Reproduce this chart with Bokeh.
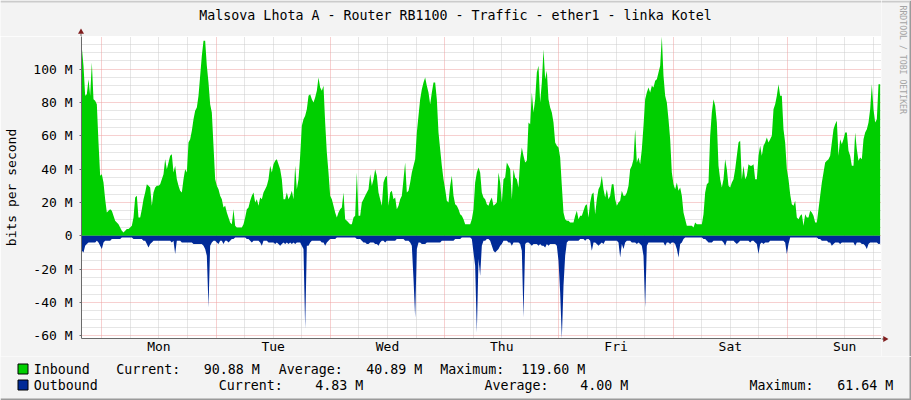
import math
from bokeh.plotting import figure
from bokeh.layouts import column, row
from bokeh.models import Range1d, FixedTicker, Grid
from bokeh.core.properties import value
from bokeh.embed import file_html
from bokeh.resources import INLINE

# ---------------- data ----------------
TITLE = "Malsova Lhota A - Router RB1100 - Traffic - ether1 - linka Kotel"
Y_LABEL = "bits per second"
WATERMARK = "RRDTOOL / TOBI OETIKER"
DAY_LABELS = ["Mon", "Tue", "Wed", "Thu", "Fri", "Sat", "Sun"]
Y_TICKS = [-60, -40, -20, 0, 20, 40, 60, 80, 100]
Y_TICK_LABELS = ["-60 M", "-40 M", "-20 M", "0", "20 M", "40 M", "60 M", "80 M", "100 M"]

# time axis in hours from Monday 00:00
X_START, X_END = -4.26, 163.74
SAMPLE_START = -4.19      # first sample (Sun 19:49)
SAMPLE_STEP = 0.35        # 21 minutes
Y_MIN, Y_MAX = -61.64, 119.60   # Mbit/s

inbound_mbps = [
    113, 102, 84, 85, 94, 84, 104, 82, 81, 79,
    56, 36, 37, 32, 22, 14, 15, 16, 15, 12,
    9, 8, 7, 5, 3, 2, 3, 4, 4, 5,
    6, 11, 23, 24, 11, 11, 16, 22, 26, 31,
    30, 29, 18, 26, 29, 30, 30, 31, 34, 37,
    46, 40, 44, 48, 49, 38, 42, 34, 30, 27,
    26, 34, 40, 38, 56, 58, 63, 70, 75, 77,
    84, 96, 108, 117, 117, 102, 92, 79, 74, 54,
    34, 30, 28, 24, 22, 17, 18, 14, 11, 8,
    7, 16, 6, 5, 5, 5, 5, 7, 11, 16,
    17, 21, 24, 26, 20, 22, 18, 23, 22, 26,
    28, 30, 34, 42, 38, 43, 45, 46, 43, 40,
    34, 22, 22, 26, 22, 24, 27, 22, 42, 28,
    34, 48, 66, 70, 72, 76, 84, 85, 82, 80,
    83, 87, 95, 89, 87, 90, 68, 50, 38, 24,
    22, 18, 14, 11, 14, 16, 17, 26, 10, 9,
    8, 7, 7, 11, 12, 38, 12, 12, 20, 22,
    24, 26, 28, 37, 30, 34, 40, 36, 26, 22,
    18, 32, 35, 36, 18, 26, 27, 22, 23, 16,
    18, 22, 24, 34, 44, 26, 27, 32, 38, 42,
    46, 62, 72, 82, 88, 92, 95, 90, 86, 79,
    86, 92, 92, 82, 62, 52, 42, 34, 28, 21,
    20, 30, 36, 24, 19, 18, 16, 13, 12, 10,
    7, 7, 7, 7, 10, 16, 32, 38, 41,
    38, 26, 23, 22, 19, 18, 21, 23, 18, 19,
    20, 38, 32, 20, 34, 35, 44, 42, 40, 22,
    40, 35, 34, 29, 46, 53, 48, 44, 45, 68,
    67, 86, 74, 82, 98, 102, 80, 92, 112, 94,
    99, 82, 77, 74, 68, 56, 54, 53, 47, 30,
    14, 10, 9, 9, 8, 8, 8, 12, 15, 10,
    12, 12, 15, 18, 19, 11, 20, 25, 26, 13,
    22, 28, 30, 36, 28, 23, 28, 22, 24, 31,
    31, 22, 18, 20, 21, 27, 24, 24, 26, 30,
    40, 42, 46, 64, 44, 47, 43, 52, 66, 82,
    86, 89, 86, 90, 89, 93, 94, 98, 102, 119.6,
    96, 84, 80, 70, 58, 38, 31, 28, 32, 27,
    29, 24, 14, 10, 6, 6, 6, 6, 5, 8,
    7, 7, 7, 7, 13, 26, 31, 32, 60, 74,
    82, 78, 68, 42, 34, 29, 34, 46, 40, 30,
    29, 32, 34, 40, 48, 56, 57, 34, 42, 34,
    36, 43, 42, 42, 43, 34, 34, 48, 54, 48,
    54, 56, 59, 56, 58, 60, 76, 79, 84, 91,
    84, 84, 64, 56, 40, 34, 25, 19, 18, 21,
    11, 10, 12, 13, 6, 13, 11, 11, 15, 14,
    12, 8, 8, 16, 24, 32, 38, 44, 45, 46,
    48, 56, 64, 67, 69, 48, 58, 55, 58, 62,
    62, 51, 48, 42, 42, 62, 52, 45, 47, 46,
    58, 62, 64, 68, 76, 91, 76, 68, 70, 91, 90.88,
]

outbound_mbps = [
    9, 10, 6, 5, 4, 4, 4, 4, 4, 3,
    4, 6, 8, 4, 3, 3, 3, 3, 2, 2,
    2, 2, 2, 2, 1, 1, 1, 1, 1, 1,
    1, 2, 2, 2, 2, 2, 2, 3, 3, 5,
    7, 5, 4, 3, 3, 3, 3, 3, 3, 3,
    3, 3, 3, 3, 4, 3, 11, 3, 3, 3,
    4, 4, 4, 4, 4, 4, 4, 5, 5, 5,
    5, 5, 5, 6, 8, 12, 43, 6, 4, 3,
    3, 4, 5, 3, 3, 5, 3, 3, 4, 3,
    2, 2, 1, 1, 1, 1, 1, 1, 1, 2,
    2, 3, 4, 3, 3, 3, 3, 4, 6, 3,
    3, 3, 4, 4, 4, 4, 5, 4, 5, 6,
    5, 4, 5, 4, 5, 4, 5, 4, 5, 4,
    4, 4, 6, 8, 56, 6, 6, 4, 3, 3,
    3, 3, 3, 3, 4, 4, 6, 4, 3, 2,
    2, 2, 2, 1, 1, 1, 1, 1, 1, 1,
    1, 1, 1, 1, 1, 2, 2, 2, 3, 4,
    4, 5, 5, 4, 4, 4, 5, 5, 6, 4,
    3, 3, 4, 3, 3, 3, 3, 3, 3, 2,
    2, 2, 2, 2, 3, 3, 3, 4, 6, 26,
    49, 8, 4, 4, 5, 5, 5, 4, 4, 4,
    4, 4, 4, 4, 4, 4, 3, 3, 3, 3,
    3, 3, 3, 3, 2, 2, 2, 2, 1, 1,
    1, 1, 1, 1, 2, 10, 18, 58, 14,
    24, 6, 3, 3, 2, 2, 3, 6, 9, 10,
    9, 8, 6, 5, 3, 3, 3, 4, 4, 6,
    4, 4, 4, 4, 5, 9, 49, 5, 4, 4,
    5, 6, 5, 5, 5, 6, 5, 6, 6, 7,
    5, 6, 5, 5, 5, 5, 6, 15, 34, 61.64,
    30, 12, 4, 3, 3, 3, 3, 3, 3, 3,
    2, 2, 2, 3, 2, 2, 3, 9, 4, 4,
    5, 6, 5, 4, 5, 3, 3, 3, 3, 3,
    3, 3, 3, 4, 13, 5, 8, 4, 3, 3,
    3, 4, 4, 4, 5, 4, 5, 6, 12, 43,
    6, 4, 4, 4, 4, 4, 4, 4, 4, 4,
    4, 6, 4, 4, 5, 4, 4, 5, 8, 13,
    5, 4, 2, 1, 1, 1, 1, 1, 1, 1,
    1, 1, 1, 1, 2, 2, 3, 4, 4, 4,
    3, 3, 3, 3, 3, 3, 4, 6, 3, 3,
    3, 3, 3, 4, 5, 4, 3, 3, 3, 3,
    3, 3, 4, 3, 3, 4, 5, 11, 5, 4,
    5, 4, 4, 4, 3, 3, 3, 3, 3, 3,
    3, 3, 3, 4, 11, 5, 1, 1, 1, 1,
    1, 1, 1, 1, 1, 1, 1, 1, 1, 1,
    1, 1, 1, 2, 2, 3, 3, 3, 3, 4,
    4, 6, 5, 4, 4, 4, 5, 4, 4, 4,
    4, 4, 4, 4, 4, 6, 4, 4, 4, 5,
    5, 6, 8, 5, 4, 4, 4, 4, 4, 5, 4.83,
]

LEGEND_NAMES = ["Inbound", "Outbound"]
LEGEND_COLORS = ["#00CF00", "#002A97"]
STAT_NAMES = ["Current:", "Average:", "Maximum:"]
INBOUND_STATS = ["90.88 M", "40.89 M", "119.60 M"]
OUTBOUND_STATS = ["4.83 M", "4.00 M", "61.64 M"]

hours = [SAMPLE_START + i * SAMPLE_STEP for i in range(len(inbound_mbps))]
hours_out = [SAMPLE_START + i * SAMPLE_STEP for i in range(len(outbound_mbps))]
outbound_neg = [-v for v in outbound_mbps]

# ---------------- styling / layout constants (pixels) ----------------
W, H = 911, 400
FRAME_L, FRAME_T, FRAME_R, FRAME_B = 81, 36, 881, 338
LEGEND_TOP = 356
FONT = "DejaVu Sans Mono"
BG = "#F3F3F3"
SHADE_A = "#CBCBCB"
SHADE_B = "#9A9A9A"
AXIS_COL = "#6a6a6a"
ARROW_COL = "#801E1E"
GRID_GRAY = "#cdcdcd"
GRID_RED = "#eea0a0"


def pixel_fig(x0, x1, y0, y1):
    """Helper figure whose data space is the reference's pixel grid."""
    f = figure(width=x1 - x0, height=y1 - y0, output_backend="svg", toolbar_location=None,
               title=None, x_range=Range1d(x0, x1), y_range=Range1d(y1, y0),
               x_axis_location=None, y_axis_location=None, min_border=0)
    f.min_border_left = f.min_border_right = f.min_border_top = f.min_border_bottom = 0
    f.border_fill_color = BG
    f.background_fill_color = BG
    f.outline_line_color = None
    for g in f.grid:
        g.visible = False
    return f


# ---------------- main chart ----------------
p = figure(width=FRAME_R, height=LEGEND_TOP - FRAME_T, output_backend="svg", toolbar_location=None,
           title=None, x_range=Range1d(X_START, X_END), y_range=Range1d(Y_MIN, Y_MAX),
           min_border_left=FRAME_L, min_border_right=0, min_border_top=0,
           min_border_bottom=LEGEND_TOP - FRAME_B)
p.border_fill_color = BG
p.background_fill_color = "#FFFFFF"
p.outline_line_color = None
p.xgrid.visible = False
p.ygrid.visible = False

minor_x = [d * 24 + h for d in range(-1, 8) for h in (6, 12, 18) if X_START < d * 24 + h < X_END]
major_x = [d * 24 for d in range(0, 8) if X_START < d * 24 < X_END]
minor_y = [v for v in range(-60, 120, 5) if v % 20 != 0]
major_y = list(range(-60, 120, 20))
for dim, ticks, col in [(0, minor_x, GRID_GRAY), (1, minor_y, GRID_GRAY),
                        (0, major_x, GRID_RED), (1, major_y, GRID_RED)]:
    p.add_layout(Grid(dimension=dim, ticker=FixedTicker(ticks=ticks),
                      grid_line_color=col, grid_line_dash="1 1", grid_line_width=1))

p.varea(x=hours, y1=0, y2=inbound_mbps, fill_color=LEGEND_COLORS[0], fill_alpha=1)
p.varea(x=hours_out, y1=outbound_neg, y2=0, fill_color=LEGEND_COLORS[1], fill_alpha=1)

p.xaxis.ticker = FixedTicker(ticks=[12 + 24 * i for i in range(len(DAY_LABELS))])
p.xaxis.major_label_overrides = {12 + 24 * i: d for i, d in enumerate(DAY_LABELS)}
p.yaxis.ticker = FixedTicker(ticks=Y_TICKS)
p.yaxis.major_label_overrides = {t: l for t, l in zip(Y_TICKS, Y_TICK_LABELS)}
for ax in (p.xaxis[0], p.yaxis[0]):
    ax.axis_line_color = AXIS_COL
    ax.major_label_text_font = FONT
    ax.major_label_text_font_size = "13px"
    ax.major_label_text_color = "#000000"
    ax.minor_tick_line_color = None
p.xaxis.major_tick_line_color = None
p.xaxis.major_tick_out = 0
p.xaxis.major_tick_in = 0
p.xaxis.major_label_standoff = 0
p.yaxis.major_tick_line_color = AXIS_COL
p.yaxis.major_tick_out = 2
p.yaxis.major_tick_in = 0
p.yaxis.major_label_standoff = 7
p.yaxis.axis_label = Y_LABEL
p.yaxis.axis_label_text_font = FONT
p.yaxis.axis_label_text_font_size = "13px"
p.yaxis.axis_label_text_font_style = "normal"
p.yaxis.axis_label_text_color = "#000000"
p.yaxis.axis_label_standoff = 11

# ---------------- title strip (above the chart) ----------------
t = pixel_fig(0, FRAME_R, 0, FRAME_T)
t.quad(left=[0], right=[FRAME_R], top=[0], bottom=[2], fill_color=SHADE_A, line_color=None)
t.text(x=[455], y=[14.5], text=[TITLE], text_font=value(FONT), text_font_size=value("13.3px"),
       text_color="#000000", text_align="center", text_baseline="middle")
t.segment(x0=[80.5], y0=[33], x1=[80.5], y1=[FRAME_T], line_color=AXIS_COL, line_width=1)
t.scatter(x=[80.5], y=[31.5], marker="triangle", size=6, fill_color=ARROW_COL, line_color=None)

# ---------------- right strip ----------------
r = pixel_fig(FRAME_R, W, 0, LEGEND_TOP)
r.quad(left=[W - 2], right=[W], top=[0], bottom=[LEGEND_TOP], fill_color=SHADE_B, line_color=None)
r.quad(left=[FRAME_R], right=[W - 2], top=[0], bottom=[2], fill_color=SHADE_A, line_color=None)
r.text(x=[902], y=[5], text=[WATERMARK], angle=-math.pi / 2, text_font=value(FONT),
       text_font_size=value("8.2px"), text_color="#a4a4a4", text_align="left",
       text_baseline="middle")
r.segment(x0=[FRAME_R], y0=[FRAME_B + 0.5], x1=[884], y1=[FRAME_B + 0.5],
          line_color=AXIS_COL, line_width=1)
r.scatter(x=[884.5], y=[FRAME_B + 0.5], marker="triangle", size=6, angle=-math.pi / 2,
          fill_color=ARROW_COL, line_color=None)

# ---------------- legend strip (below) ----------------
lg = pixel_fig(0, W, LEGEND_TOP, H)
lg.quad(left=[0], right=[W], top=[H - 2], bottom=[H], fill_color=SHADE_B, line_color=None)
lg.quad(left=[W - 2], right=[W], top=[LEGEND_TOP], bottom=[H], fill_color=SHADE_B, line_color=None)

row_mid = [368.5, 384.5]
box_top = [363.5, 379.5]
stat_x = [[115.7, 278.3, 439.7], [218.3, 484.0, 749.0]]
val_x = [[203.3, 365.7, 520.7], [314.7, 579.7, 836.7]]
stats = [INBOUND_STATS, OUTBOUND_STATS]
for k in range(2):
    lg.quad(left=[17.5], right=[27.5], top=[box_top[k]], bottom=[box_top[k] + 10],
            fill_color=LEGEND_COLORS[k], line_color="#000000", line_width=1)
    xs = [33.3] + stat_x[k] + val_x[k]
    texts = [LEGEND_NAMES[k]] + STAT_NAMES + stats[k]
    lg.text(x=xs, y=[row_mid[k]] * len(xs), text=texts, text_font=value(FONT),
            text_font_size=value("13.3px"), text_color="#000000", text_align="left",
            text_baseline="middle")

layout = column(row(column(row(t), p), r), lg)
open("out.html", "w").write(file_html(layout, INLINE))
